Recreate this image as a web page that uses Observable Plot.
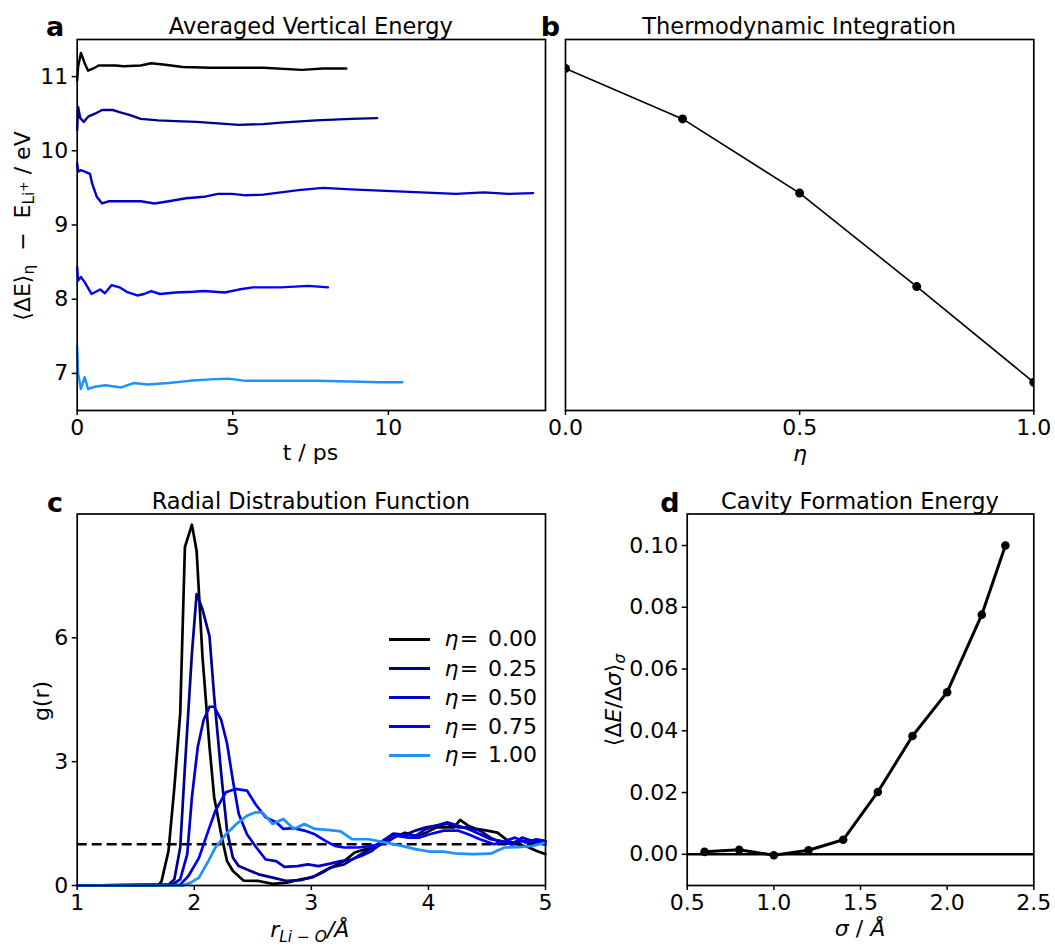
<!DOCTYPE html>
<html><head><meta charset="utf-8">
<script src="https://cdn.jsdelivr.net/npm/d3@7"></script>
<script src="https://cdn.jsdelivr.net/npm/@observablehq/plot@0.6"></script>
<style>
body{margin:0;background:#fff;}
#fig{position:relative;width:1055px;height:946px;font-family:"DejaVu Sans",sans-serif;color:#000;overflow:hidden;background:#fff}
.t{position:absolute;white-space:nowrap;line-height:1;font-family:"DejaVu Sans",sans-serif;color:#000}
.sb{font-size:0.7em;position:relative;top:0.28em}
.sp{font-size:0.8em;position:relative;top:-0.55em}
</style></head><body><div id="fig"></div>
<script>
// ---------- data ----------
const etaLabels = ["0.00", "0.25", "0.50", "0.75", "1.00"];
const etaColors = ["#000000", "#00008B", "#0000CD", "#0000FF", "#1E90FF"];

// panel a: running average of vertical energy gap (t / ps, eV)
const tEta000 = [0,0.03,0.12,0.24,0.35,0.52,0.69,1.25,1.48,2.04,2.38,2.83,3.39,4.29,4.97,5.98,7.22,7.9,8.65];
const eEta000 = [10.95,11.13,11.32,11.18,11.08,11.11,11.15,11.15,11.14,11.15,11.18,11.16,11.13,11.12,11.12,11.12,11.09,11.11,11.11];
const tEta025 = [0,0.03,0.1,0.21,0.35,0.57,0.8,1.14,1.36,1.7,2.04,2.6,3.16,3.84,4.52,5.19,5.98,6.54,7.67,8.8,9.64];
const eEta025 = [10.28,10.59,10.44,10.39,10.46,10.5,10.55,10.55,10.52,10.48,10.43,10.41,10.4,10.39,10.37,10.35,10.36,10.38,10.41,10.43,10.44];
const tEta050 = [0,0.03,0.12,0.24,0.41,0.48,0.63,0.8,1.02,1.48,2.04,2.49,2.94,3.5,4.07,4.52,4.97,5.42,5.98,7.11,7.9,8.8,9.92,11.05,12.17,13.07,13.86,14.65];
const eEta050 = [9.83,9.72,9.74,9.72,9.69,9.56,9.38,9.29,9.32,9.32,9.32,9.29,9.32,9.36,9.38,9.42,9.42,9.4,9.41,9.47,9.5,9.48,9.46,9.44,9.42,9.44,9.42,9.43];
const tEta075 = [0,0.03,0.12,0.24,0.46,0.74,0.89,1.11,1.36,1.59,1.93,2.15,2.38,2.66,3.16,3.73,4.07,4.74,5.19,5.64,6.54,7.44,8.06];
const eEta075 = [8.43,8.25,8.3,8.23,8.07,8.13,8.08,8.19,8.16,8.1,8.05,8.07,8.11,8.07,8.09,8.1,8.11,8.09,8.13,8.16,8.16,8.18,8.16];
const tEta100 = [0,0.03,0.12,0.24,0.35,0.57,0.91,1.42,1.81,2.26,2.94,3.61,4.29,4.85,5.42,6.54,7.67,8.8,9.7,10.45];
const eEta100 = [7.36,7.0,6.79,6.95,6.79,6.82,6.84,6.81,6.87,6.85,6.87,6.9,6.92,6.93,6.9,6.9,6.9,6.89,6.88,6.88];

// panel b: thermodynamic integration
const etaTI = [0, 0.25, 0.5, 0.75, 1.0];
const energyTI = [11.11, 10.43, 9.43, 8.17, 6.88];

// panel c: radial distribution functions
const r000 = [1,1.69,1.72,1.78,1.83,1.88,1.92,1.98,2.02,2.07,2.13,2.17,2.23,2.28,2.33,2.42,2.55,2.67,2.79,2.91,3.0,3.09,3.19,3.28,3.37,3.46,3.55,3.64,3.73,3.8,3.89,3.98,4.07,4.16,4.22,4.27,4.34,4.41,4.5,4.59,4.68,4.77,4.86,4.92,5.0];
const g000 = [0,0,0.1,0.84,2.38,4.17,8.2,8.74,8.11,5.55,3.36,2.14,1.24,0.59,0.35,0.12,0.11,0.04,0.07,0.15,0.19,0.31,0.47,0.59,0.8,0.88,0.92,1.08,1.2,1.28,1.2,1.28,1.41,1.41,1.41,1.59,1.45,1.37,1.33,1.28,1.08,1.0,0.92,0.84,0.76];
const r025 = [1,1.78,1.83,1.88,1.92,1.98,2.02,2.07,2.13,2.17,2.23,2.28,2.33,2.38,2.45,2.55,2.67,2.79,2.91,3.03,3.16,3.28,3.4,3.52,3.61,3.7,3.8,3.89,3.98,4.07,4.16,4.25,4.34,4.44,4.53,4.62,4.71,4.8,4.89,5.0];
const g025 = [0,0.02,0.15,0.92,2.87,5.63,7.06,6.69,6.04,4.58,2.71,1.33,0.67,0.47,0.39,0.27,0.19,0.11,0.13,0.23,0.43,0.51,0.72,0.92,1.08,1.24,1.23,1.33,1.41,1.45,1.49,1.41,1.41,1.33,1.16,1.04,1.0,1.08,1.04,1.0];
const r050 = [1,1.81,1.88,1.94,1.98,2.03,2.08,2.13,2.17,2.23,2.28,2.33,2.38,2.45,2.53,2.61,2.7,2.77,2.88,2.97,3.06,3.16,3.25,3.34,3.43,3.52,3.61,3.7,3.8,3.89,3.98,4.07,4.16,4.25,4.34,4.44,4.53,4.62,4.71,4.8,4.89,5.0];
const g050 = [0,0.02,0.15,0.76,2.14,3.36,4.01,4.33,4.33,4.01,3.44,2.54,1.73,1.24,0.92,0.63,0.59,0.45,0.47,0.51,0.47,0.53,0.59,0.63,0.72,0.84,1.08,1.26,1.23,1.2,1.37,1.45,1.53,1.45,1.37,1.24,1.12,1.08,1.0,1.16,1.08,1.04];
const r075 = [1,1.88,1.95,2.04,2.12,2.18,2.27,2.35,2.45,2.52,2.61,2.7,2.76,2.85,2.94,3.03,3.12,3.2,3.28,3.4,3.52,3.64,3.73,3.83,3.92,4.01,4.13,4.25,4.34,4.44,4.56,4.65,4.74,4.83,4.92,5.0];
const g075 = [0,0.02,0.23,0.67,1.33,1.81,2.26,2.34,2.3,1.98,1.65,1.53,1.37,1.39,1.33,1.24,1.08,0.96,0.92,0.92,0.96,1.04,1.2,1.16,1.16,1.24,1.33,1.33,1.24,1.12,1.0,1.08,1.16,1.04,1.12,1.08];
const r100 = [1,1.9,1.97,2.04,2.12,2.18,2.27,2.36,2.45,2.52,2.58,2.67,2.76,2.85,2.94,3.03,3.16,3.25,3.35,3.49,3.64,3.77,3.89,4.01,4.13,4.25,4.38,4.53,4.65,4.77,4.89,5.0];
const g100 = [0,0,0.07,0.19,0.59,0.92,1.24,1.49,1.69,1.77,1.77,1.49,1.61,1.37,1.49,1.37,1.34,1.31,1.12,1.12,1.04,0.96,0.88,0.82,0.82,0.77,0.76,0.77,0.92,0.93,0.96,1.04];

// panel d: cavity formation energy
const sigmaVals = [0.6, 0.8, 1.0, 1.2, 1.4, 1.6, 1.8, 2.0, 2.2, 2.336];
const dEdSigma = [0.0008, 0.0015, -0.0003, 0.0013, 0.0047, 0.0202, 0.0383, 0.0525, 0.0776, 0.1];

// ---------- tables ----------
const zipXY = (xs, ys) => xs.map((x, i) => ({x, y: ys[i]}));
const seriesA = [zipXY(tEta000,eEta000), zipXY(tEta025,eEta025), zipXY(tEta050,eEta050), zipXY(tEta075,eEta075), zipXY(tEta100,eEta100)];
const seriesC = [zipXY(r000,g000), zipXY(r025,g025), zipXY(r050,g050), zipXY(r075,g075), zipXY(r100,g100)];
const tableB = zipXY(etaTI, energyTI);
const tableD = zipXY(sigmaVals, dEdSigma);

const fig = document.getElementById("fig");
const FONT = 22;

function panel(o) {
  const svg = Plot.plot({
    width: o.width, height: o.height,
    marginLeft: o.ml, marginRight: o.mr, marginTop: o.mt, marginBottom: o.mb,
    x: o.x, y: o.y, marks: o.marks,
    style: {fontFamily: "DejaVu Sans", fontSize: FONT + "px", color: "black", background: "transparent", overflow: "visible"}
  });
  svg.style.position = "absolute";
  svg.style.left = o.left + "px";
  svg.style.top = o.top + "px";
  svg.style.maxWidth = "none";
  fig.appendChild(svg);
}
const axX = (ticks, fmt) => Plot.axisX({ticks, tickSize: 5, tickPadding: 4, strokeWidth: 1.5, label: null, tickFormat: fmt, fontSize: FONT});
const axY = (ticks, fmt) => Plot.axisY({ticks, tickSize: 5, tickPadding: 4, strokeWidth: 1.5, label: null, tickFormat: fmt, fontSize: FONT});
const frame = () => Plot.frame({stroke: "black", strokeWidth: 1.7});

// panel a
panel({
  left: 0, top: 0, width: 560, height: 470, ml: 76.7, mr: 15, mt: 39, mb: 60,
  x: {domain: [0, 15.05]}, y: {domain: [6.5, 11.5]},
  marks: [
    ...seriesA.map((d, i) => Plot.line(d, {x: "x", y: "y", stroke: etaColors[i], strokeWidth: 2.4})),
    axX([0, 5, 10], d3.format("d")), axY([7, 8, 9, 10, 11], d3.format("d")), frame()
  ]
});
// panel b
panel({
  left: 540, top: 0, width: 515, height: 470, ml: 25, mr: 21.7, mt: 39, mb: 60,
  x: {domain: [0, 1]}, y: {domain: [6.5, 11.5], axis: null},
  marks: [
    Plot.line(tableB, {x: "x", y: "y", stroke: "black", strokeWidth: 1.6}),
    Plot.dot(tableB, {x: "x", y: "y", fill: "black", r: 4.5, clip: true}),
    axX([0, 0.5, 1], d3.format(".1f")), frame()
  ]
});
// panel c
panel({
  left: 0, top: 470, width: 560, height: 476, ml: 76.7, mr: 15, mt: 43.5, mb: 61,
  x: {domain: [1, 5]}, y: {domain: [0, 9.0]},
  marks: [
    Plot.ruleY([1], {stroke: "black", strokeWidth: 2.5, strokeDasharray: "10,5"}),
    ...seriesC.map((d, i) => Plot.line(d, {x: "x", y: "y", stroke: etaColors[i], strokeWidth: 2.7})),
    axX([1, 2, 3, 4, 5], d3.format("d")), axY([0, 3, 6], d3.format("d")), frame()
  ]
});
// panel d
panel({
  left: 560, top: 470, width: 495, height: 476, ml: 126.7, mr: 21.7, mt: 43.5, mb: 61,
  x: {domain: [0.5, 2.5]}, y: {domain: [-0.0101, 0.1102]},
  marks: [
    Plot.ruleY([0], {stroke: "black", strokeWidth: 2.5}),
    Plot.line(tableD, {x: "x", y: "y", stroke: "black", strokeWidth: 3}),
    Plot.dot(tableD, {x: "x", y: "y", fill: "black", r: 4.3}),
    axX([0.5, 1.0, 1.5, 2.0, 2.5], d3.format(".1f")), axY([0, 0.02, 0.04, 0.06, 0.08, 0.10], d3.format(".2f")), frame()
  ]
});

// ---------- text ----------
function txt(html, x, y, o = {}) {
  const d = document.createElement("div");
  d.className = "t";
  d.innerHTML = html;
  d.style.left = x + "px";
  d.style.top = y + "px";
  d.style.fontSize = (o.size || FONT) + "px";
  if (o.bold) d.style.fontWeight = "bold";
  const ax = o.anchor === "start" ? "0" : "-50%";
  d.style.transform = `translate(${ax}, -50%)` + (o.rotate ? ` rotate(${o.rotate}deg)` : "");
  fig.appendChild(d);
}
// panel letters
txt("a", 55, 25.7, {size: 27, bold: true});
txt("b", 550.5, 25.7, {size: 27, bold: true});
txt("c", 55, 501.7, {size: 27, bold: true});
txt("d", 670, 501.7, {size: 27, bold: true});
// titles
txt("Averaged Vertical Energy", 310.8, 25.5, {size: 22.5});
txt("Thermodynamic Integration", 799.2, 25.5, {size: 22.5});
txt("Radial Distrabution Function", 310.8, 500.5, {size: 22.5});
txt("Cavity Formation Energy", 860, 500.5, {size: 22.5});
// axis labels
txt("t / ps", 310.4, 453.4);
txt("<i>η</i>", 800, 454);
txt('<i>r</i><span class="sb"><i>Li − O</i></span><i>/Å</i>', 309.8, 930.4);
txt("<i>σ</i> / <i>Å</i>", 860, 929.1);
txt('⟨ΔE⟩<span class="sb">η</span>&nbsp; −&nbsp; E<span class="sb">Li<span class="sp">+</span></span> / eV', 23, 226, {rotate: -90});
txt("g(r)", 41.7, 701, {rotate: -90});
txt('⟨Δ<i>E</i>/Δ<i>σ</i>⟩<span class="sb"><i>σ</i></span>', 614, 700, {rotate: -90});

// legend for panel c
const legendRows = [639.3, 668.7, 697.7, 726.7, 755.3];
etaLabels.forEach((lab, i) => {
  const ln = document.createElement("div");
  ln.style.cssText = `position:absolute;left:389.3px;width:41px;top:${legendRows[i] - 1.5}px;height:3px;background:${etaColors[i]}`;
  fig.appendChild(ln);
  txt(`<i>η</i><span style="margin:0 0.45em 0 0.05em">=</span>${lab}`, 444.6, legendRows[i], {anchor: "start"});
});
</script></body></html>
